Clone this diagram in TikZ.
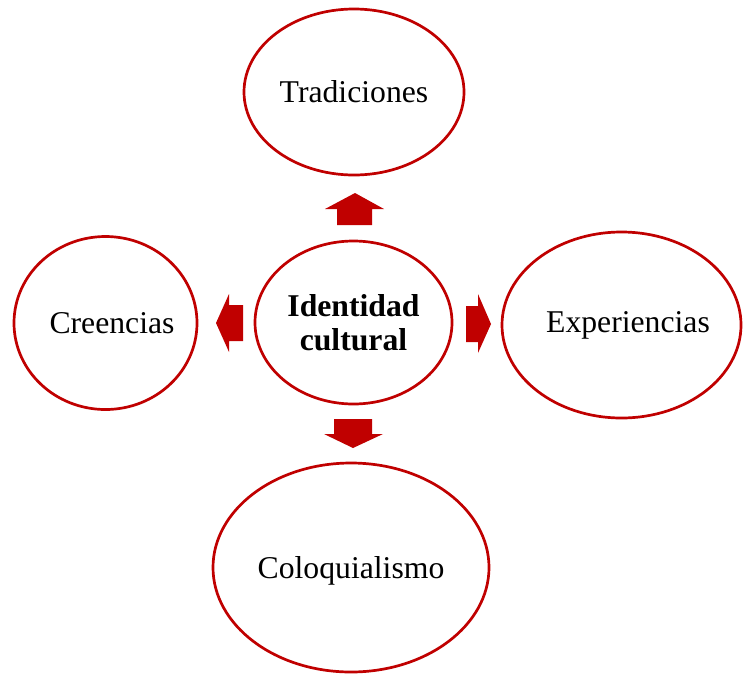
\documentclass[tikz,border=0pt]{standalone}
\usepackage{fontspec}
\setmainfont{Liberation Serif}
\usetikzlibrary{shapes.geometric}
\definecolor{dred}{HTML}{C00000}
\tikzset{
  bub/.style={draw=dred, line width=2.7pt, ellipse, inner sep=0pt, fill=white,
              font=\fontsize{31.7}{33.5}\selectfont, align=center},
  txt/.style={font=\fontsize{31.7}{33.5}\selectfont, inner sep=0pt},
  blockarrow/.style={fill=dred, draw=none}
}
\begin{document}
\begin{tikzpicture}[x=1pt,y=-1pt]
\useasboundingbox (0,0) rectangle (743,675);
\fill[white] (0,0) rectangle (743,675);

\node[bub, minimum width=220pt, minimum height=166pt] (tra) at (354,92) {Tradiciones};
\node[bub, minimum width=183pt, minimum height=173pt,
      label={[txt,xshift=6.5pt]center:Creencias}] (cre) at (105.5,323) {};
\node[bub, minimum width=197pt, minimum height=163pt] (idc) at (353.5,322.5) {\textbf{Identidad}\\\textbf{cultural}};
\node[bub, minimum width=239pt, minimum height=186pt,
      label={[txt,xshift=6.5pt]center:Experiencias}] (exp) at (621.5,325) {};
\node[bub, minimum width=276pt, minimum height=209pt,
      label={[txt,yshift=-3pt]center:Coloquialismo}] (col) at (351,567.5) {};

% block arrows (up, left, right, down)
\fill[blockarrow] (355,193) -- (384,209) -- (372,209) -- (372,225) -- (337,225) -- (337,209) -- (325,209) -- cycle;
\fill[blockarrow] (216,323) -- (229,294) -- (229,305) -- (243,305) -- (243,341) -- (229,341) -- (229,352) -- cycle;
\fill[blockarrow] (491,324) -- (478,294) -- (478,306) -- (466,306) -- (466,342) -- (478,342) -- (478,353) -- cycle;
\fill[blockarrow] (353,448) -- (383,434) -- (372,434) -- (372,419) -- (334,419) -- (334,434) -- (324,434) -- cycle;
\end{tikzpicture}
\end{document}
